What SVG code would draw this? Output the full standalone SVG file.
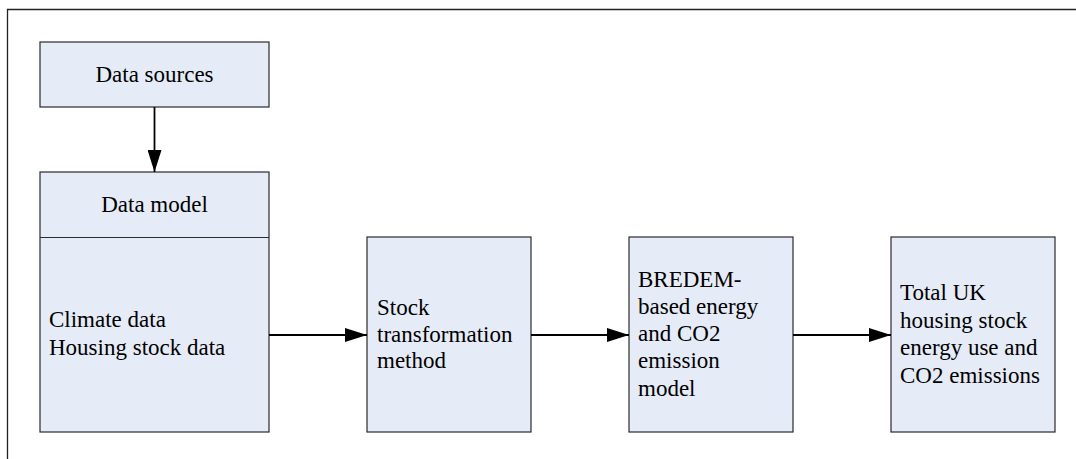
<svg xmlns="http://www.w3.org/2000/svg" width="1076" height="459" viewBox="0 0 1076 459">
<defs>
<marker id="ah" viewBox="0 0 22 14" refX="22" refY="7" markerWidth="22" markerHeight="14" markerUnits="userSpaceOnUse" orient="auto">
<path d="M0,0 L22,7 L0,14 Z" fill="#000"/>
</marker>
</defs>
<rect width="1076" height="459" fill="#fff"/>
<path d="M7.5,470 L7.5,9.5 L1090,9.5" fill="none" stroke="#222" stroke-width="1.3"/>
<g id="data-sources">
<rect x="40" y="42" width="229" height="65" fill="#E6ECF7" stroke="#2b2b2b" stroke-width="1.2"/>
<text x="154.5" y="82" font-size="23" font-family="Times New Roman" text-anchor="middle">Data sources</text>
</g>
<g id="data-model">
<rect x="40" y="172" width="229" height="260" fill="#E6ECF7" stroke="#2b2b2b" stroke-width="1.2"/>
<line x1="40" y1="237.5" x2="269" y2="237.5" stroke="#2b2b2b" stroke-width="1.2"/>
<text x="154.5" y="212" font-size="23" font-family="Times New Roman" text-anchor="middle">Data model</text>
<text x="49" y="327" font-size="23" font-family="Times New Roman">Climate data</text>
<text x="49" y="355" font-size="23" font-family="Times New Roman">Housing stock data</text>
</g>
<g id="stock-transformation">
<rect x="367" y="237" width="164" height="195" fill="#E6ECF7" stroke="#2b2b2b" stroke-width="1.2"/>
<text x="377" y="315" font-size="23" font-family="Times New Roman">Stock</text>
<text x="377" y="341.5" font-size="23" font-family="Times New Roman">transformation</text>
<text x="377" y="368" font-size="23" font-family="Times New Roman">method</text>
</g>
<g id="bredem">
<rect x="629" y="237" width="164" height="195" fill="#E6ECF7" stroke="#2b2b2b" stroke-width="1.2"/>
<text x="638" y="287" font-size="23" font-family="Times New Roman">BREDEM-</text>
<text x="638" y="314" font-size="23" font-family="Times New Roman">based energy</text>
<text x="638" y="341" font-size="23" font-family="Times New Roman">and CO2</text>
<text x="638" y="368" font-size="23" font-family="Times New Roman">emission</text>
<text x="638" y="396" font-size="23" font-family="Times New Roman">model</text>
</g>
<g id="total-uk">
<rect x="891" y="237" width="164" height="195" fill="#E6ECF7" stroke="#2b2b2b" stroke-width="1.2"/>
<text x="900" y="300" font-size="23" font-family="Times New Roman">Total UK</text>
<text x="900" y="327.5" font-size="23" font-family="Times New Roman">housing stock</text>
<text x="900" y="355" font-size="23" font-family="Times New Roman">energy use and</text>
<text x="900" y="383" font-size="23" font-family="Times New Roman">CO2 emissions</text>
</g>
<g id="connectors" stroke="#000" stroke-width="1.8" fill="none">
<line x1="154.5" y1="107" x2="154.5" y2="172" marker-end="url(#ah)"/>
<line x1="269" y1="335" x2="367" y2="335" marker-end="url(#ah)"/>
<line x1="531" y1="335" x2="629" y2="335" marker-end="url(#ah)"/>
<line x1="793" y1="335" x2="891" y2="335" marker-end="url(#ah)"/>
</g>
</svg>
